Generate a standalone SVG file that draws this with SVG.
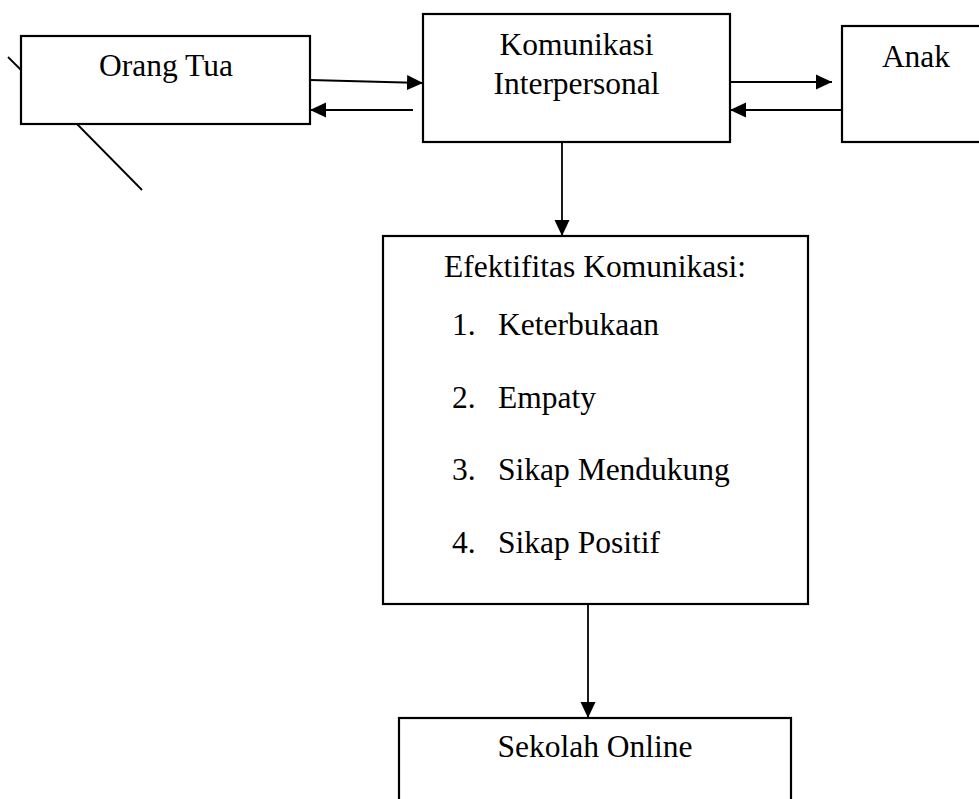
<svg xmlns="http://www.w3.org/2000/svg" width="979" height="799" viewBox="0 0 979 799">
<style>
  .box { fill: #ffffff; stroke: #000000; stroke-width: 2.2; }
  .ln { fill: none; stroke: #000000; stroke-width: 1.8; }
  .arr { fill: none; stroke: #000000; stroke-width: 1.8; marker-end: url(#ah); }
  text { font-family: "Liberation Serif", "Times New Roman", serif; font-size: 31.5px; fill: #000000; }
  .c { text-anchor: middle; }
</style>
<defs>
  <marker id="ah" markerUnits="userSpaceOnUse" markerWidth="16" markerHeight="16" refX="16" refY="8" orient="auto">
    <path d="M0,0.5 L16,8 L0,15.5 Z" fill="#000000"/>
  </marker>
</defs>
<rect width="979" height="799" fill="#ffffff"/>

<g id="node-orang-tua">
  <rect class="box" x="21" y="36" width="289" height="88"/>
  <text class="c" x="166" y="76">Orang Tua</text>
</g>

<g id="node-komunikasi">
  <rect class="box" x="423" y="14" width="307" height="128"/>
  <text class="c" x="576.5" y="55">Komunikasi</text>
  <text class="c" x="576.5" y="94">Interpersonal</text>
</g>

<g id="node-anak">
  <rect class="box" x="842" y="26" width="150" height="116"/>
  <text class="c" x="916" y="67">Anak</text>
</g>

<g id="node-efektifitas">
  <rect class="box" x="383" y="236" width="425" height="368"/>
  <text class="c" x="595" y="277">Efektifitas Komunikasi:</text>
  <text x="452" y="335">1.</text><text x="498" y="335">Keterbukaan</text>
  <text x="452" y="407.5">2.</text><text x="498" y="407.5">Empaty</text>
  <text x="452" y="480">3.</text><text x="498" y="480">Sikap Mendukung</text>
  <text x="452" y="552.5">4.</text><text x="498" y="552.5">Sikap Positif</text>
</g>

<g id="node-sekolah">
  <rect class="box" x="399" y="718" width="392" height="100"/>
  <text class="c" x="595" y="757">Sekolah Online</text>
</g>

<g id="connectors">
  <line class="arr" x1="310" y1="80" x2="423" y2="83"/>
  <line class="arr" x1="413" y1="110" x2="310" y2="110"/>
  <line class="arr" x1="730" y1="82" x2="832" y2="82"/>
  <line class="arr" x1="842" y1="110" x2="730" y2="110"/>
  <line class="arr" x1="562" y1="142" x2="562" y2="236"/>
  <line class="arr" x1="588" y1="604" x2="588" y2="718"/>
  <line class="ln" x1="8" y1="57" x2="21" y2="70"/>
  <line class="ln" x1="77" y1="124" x2="142" y2="190"/>
</g>
</svg>
